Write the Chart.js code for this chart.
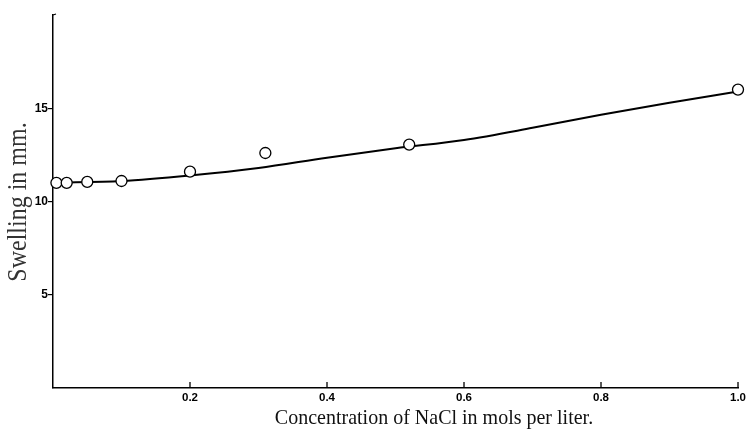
<!DOCTYPE html>
<html>
<head>
<meta charset="utf-8">
<script src="https://cdn.jsdelivr.net/npm/chart.js@4"></script>
<style>
  html, body { margin: 0; padding: 0; background: #fff; }
  #wrap { width: 749px; height: 445px; }
</style>
</head>
<body>
<div id="wrap"><canvas id="swellChart" width="749" height="445"></canvas></div>
<script>
// measured swelling (open circles)
const concentration = [0.005, 0.02, 0.05, 0.1, 0.2, 0.31, 0.52, 1.0];
const swelling = [11.0, 11.0, 11.05, 11.1, 11.6, 12.6, 13.05, 16.0];

// smooth drawn curve
const curveX = [0, 0.1, 0.2, 0.3, 0.4, 0.5, 0.6, 0.7, 0.8, 0.9, 1.0];
const curveY = [11.0, 11.1, 11.4, 11.8, 12.35, 12.85, 13.3, 13.95, 14.65, 15.3, 15.9];

const yTickLabels = [5, 10, 15];
const xTickLabels = [0.2, 0.4, 0.6, 0.8, 1.0];

const xTitle = "Concentration of NaCl in mols per liter.";
const yTitle = "Swelling in mm.";

// inward x ticks, top hook and axis titles
const extras = {
    id: "extras",
    afterDraw(chart) {
        const ctx = chart.ctx;
        const xs = chart.scales.x;
        const area = chart.chartArea;
        ctx.save();
        ctx.strokeStyle = "#000";
        ctx.lineWidth = 1.3;
        xTickLabels.forEach(v => {
            const px = xs.getPixelForValue(v);
            ctx.beginPath();
            ctx.moveTo(px, area.bottom);
            ctx.lineTo(px, area.bottom - 6);
            ctx.stroke();
        });
        // small hook at the top of y axis
        ctx.beginPath();
        ctx.moveTo(area.left, area.top);
        ctx.lineTo(area.left + 3, area.top - 1);
        ctx.stroke();

        ctx.textAlign = "center";
        ctx.textBaseline = "alphabetic";

        // scanned lettering is a bit taller than wide
        ctx.save();
        ctx.fillStyle = "#111";
        ctx.translate(434, 424);
        ctx.scale(1, 1.1);
        ctx.font = "20px 'Liberation Serif'";
        ctx.fillText(xTitle, 0, 0);
        ctx.restore();

        ctx.fillStyle = "#333";
        ctx.translate(26, 202);
        ctx.rotate(-Math.PI / 2);
        ctx.scale(1, 1.15);
        ctx.font = "24px 'Liberation Serif'";
        ctx.fillText(yTitle, 0, 0);
        ctx.restore();
    }
};

const ctx = document.getElementById("swellChart").getContext("2d");
new Chart(ctx, {
    type: "scatter",
    data: {
        datasets: [
            {
                label: "curve",
                data: curveX.map((x, i) => ({ x: x, y: curveY[i] })),
                showLine: true,
                borderColor: "#000",
                borderWidth: 2,
                pointRadius: 0,
                cubicInterpolationMode: "monotone",
                fill: false,
                order: 2
            },
            {
                label: "measured",
                data: concentration.map((x, i) => ({ x: x, y: swelling[i] })),
                showLine: false,
                pointRadius: 5.5,
                pointBorderWidth: 1.3,
                pointBorderColor: "#000",
                pointBackgroundColor: "#fff",
                clip: false,
                order: 1
            }
        ]
    },
    options: {
        responsive: false,
        animation: false,
        layout: { padding: { top: 15, right: 9, left: 0, bottom: 0 } },
        plugins: {
            legend: { display: false },
            tooltip: { enabled: false }
        },
        scales: {
            x: {
                type: "linear",
                min: 0,
                max: 1,
                afterFit(scale) { scale.height = 57; },
                afterBuildTicks(scale) {
                    scale.ticks = xTickLabels.map(v => ({ value: v }));
                },
                grid: { display: false, drawTicks: false },
                border: { display: true, color: "#000", width: 1.5 },
                ticks: {
                    padding: 3,
                    color: "#000",
                    font: { family: "'Liberation Sans'", size: 11.5, weight: "bold" },
                    callback: v => v.toFixed(1)
                }
            },
            y: {
                min: 0,
                max: 20,
                afterFit(scale) { scale.width = 53; },
                afterBuildTicks(scale) {
                    scale.ticks = yTickLabels.map(v => ({ value: v }));
                },
                grid: {
                    display: true,
                    drawOnChartArea: false,
                    drawTicks: true,
                    tickLength: 5,
                    color: "#000",
                    lineWidth: 1.2
                },
                border: { display: true, color: "#000", width: 1.5 },
                ticks: {
                    padding: 0,
                    color: "#000",
                    font: { family: "'Liberation Sans'", size: 12, weight: "bold" },
                    callback: v => String(v)
                }
            }
        }
    },
    plugins: [extras]
});
</script>
</body>
</html>
